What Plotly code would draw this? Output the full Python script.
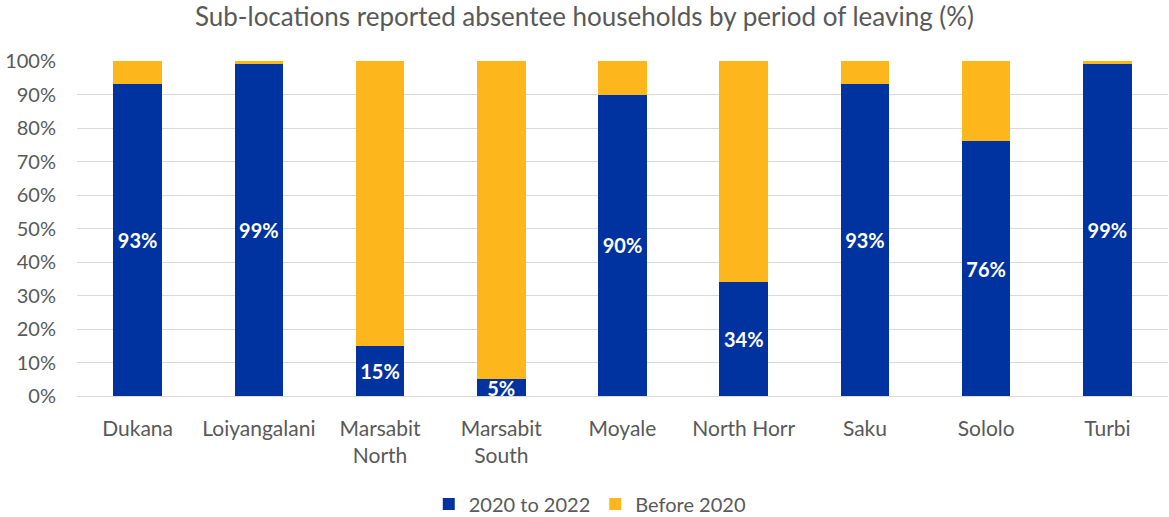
import plotly.graph_objects as go

# Sub-locations and share of absentee households by period of leaving (%)
sub_locations = ["Dukana", "Loiyangalani", "Marsabit<br>North", "Marsabit<br>South",
                 "Moyale", "North Horr", "Saku", "Sololo", "Turbi"]
recent_pct = [93, 99, 15, 5, 90, 34, 93, 76, 99]        # 2020 to 2022
before_pct = [100 - v for v in recent_pct]               # Before 2020
y_ticks = [0, 10, 20, 30, 40, 50, 60, 70, 80, 90, 100]

BLUE = "#0033A0"
YELLOW = "#FDB71C"
FONT = "Lato, 'Open Sans', sans-serif"
GREY_TEXT = "#595959"

fig = go.Figure()
fig.add_trace(go.Bar(
    name="2020 to 2022",
    x=sub_locations,
    y=recent_pct,
    marker=dict(color=BLUE, line=dict(width=0)),
    text=[f"{v}%" for v in recent_pct],
    textposition="inside",
    insidetextanchor="middle",
    constraintext="none",
    textangle=0,
    textfont=dict(family=FONT, size=20, color="white", weight="bold"),
    hoverinfo="skip",
))
fig.add_trace(go.Bar(
    name="Before 2020",
    x=sub_locations,
    y=before_pct,
    marker=dict(color=YELLOW, line=dict(width=0)),
    hoverinfo="skip",
))

fig.update_layout(
    barmode="stack",
    bargap=0.6,
    width=1169,
    height=517,
    margin=dict(l=77, r=1, t=61, b=121, autoexpand=False),
    paper_bgcolor="white",
    plot_bgcolor="white",
    font=dict(family=FONT, color=GREY_TEXT, size=20),
    title=dict(
        text="Sub-locations reported absentee households by period of leaving (%)",
        x=0.5, xanchor="center", y=0.968, yanchor="middle",
        font=dict(family=FONT, size=26, color=GREY_TEXT),
    ),
    xaxis=dict(
        showgrid=False, showline=False, ticks="",
        ticklabelstandoff=18,
        tickfont=dict(family=FONT, size=21, color=GREY_TEXT),
    ),
    yaxis=dict(
        range=[0, 100],
        tickvals=y_ticks,
        ticktext=[f"{t}%" for t in y_ticks],
        showgrid=True, gridcolor="#D9D9D9", gridwidth=1,
        zeroline=True, zerolinecolor="#D9D9D9", zerolinewidth=1,
        showline=False, ticks="",
        ticklabelstandoff=20,
        tickfont=dict(family=FONT, size=20, color=GREY_TEXT),
    ),
    legend=dict(
        orientation="h",
        x=0.47, xanchor="center",
        yref="container", y=0.025, yanchor="middle",
        font=dict(family=FONT, size=20, color=GREY_TEXT),
        traceorder="normal",
        itemwidth=30,
    ),
    showlegend=True,
)

fig.write_html("out.html")
